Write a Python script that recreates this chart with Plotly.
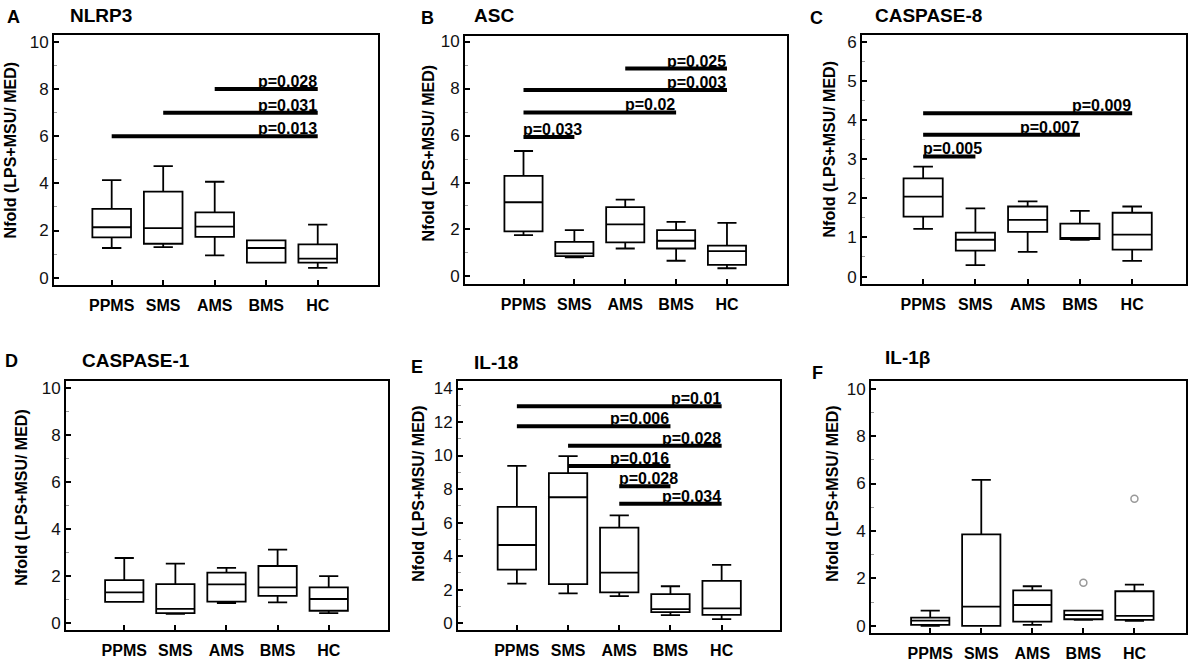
import plotly.graph_objects as go

W, H = 1198, 662
cats = ["PPMS", "SMS", "AMS", "BMS", "HC"]

# ---------------- data (box statistics) ----------------
nlrp3_low = [1.26, 1.30, 0.95, 0.64, 0.42]
nlrp3_q1 = [1.71, 1.44, 1.73, 0.64, 0.64]
nlrp3_med = [2.14, 2.10, 2.17, 1.26, 0.81]
nlrp3_q3 = [2.92, 3.65, 2.77, 1.58, 1.41]
nlrp3_high = [4.14, 4.73, 4.07, 1.58, 2.25]

asc_low = [1.76, 0.81, 1.19, 0.67, 0.35]
asc_q1 = [1.92, 0.87, 1.45, 1.19, 0.49]
asc_med = [3.16, 0.98, 2.22, 1.52, 1.08]
asc_q3 = [4.28, 1.47, 2.95, 1.97, 1.31]
asc_high = [5.34, 1.97, 3.27, 2.32, 2.28]

casp8_low = [1.22, 0.29, 0.63, 0.94, 0.40]
casp8_q1 = [1.53, 0.66, 1.14, 0.96, 0.69]
casp8_med = [2.04, 0.94, 1.45, 0.99, 1.07]
casp8_q3 = [2.51, 1.12, 1.79, 1.35, 1.63]
casp8_high = [2.81, 1.74, 1.92, 1.68, 1.79]

casp1_low = [0.90, 0.39, 0.84, 0.88, 0.42]
casp1_q1 = [0.90, 0.42, 0.91, 1.15, 0.52]
casp1_med = [1.30, 0.60, 1.64, 1.51, 1.02]
casp1_q3 = [1.82, 1.65, 2.14, 2.42, 1.51]
casp1_high = [2.76, 2.52, 2.34, 3.12, 1.99]

il18_low = [2.36, 1.77, 1.61, 0.47, 0.24]
il18_q1 = [3.19, 2.32, 1.83, 0.65, 0.49]
il18_med = [4.66, 7.51, 3.01, 0.83, 0.88]
il18_q3 = [6.94, 8.95, 5.70, 1.73, 2.52]
il18_high = [9.38, 9.97, 6.43, 2.20, 3.48]

il1b_low = [0.00, 0.00, 0.04, 0.25, 0.21]
il1b_q1 = [0.04, 0.00, 0.18, 0.28, 0.25]
il1b_med = [0.22, 0.81, 0.88, 0.46, 0.42]
il1b_q3 = [0.35, 3.86, 1.50, 0.64, 1.46]
il1b_high = [0.64, 6.15, 1.67, 0.64, 1.74]
il1b_out_x = ["BMS", "HC"]
il1b_out_y = [1.82, 5.36]

# ---------------- significance bars ----------------
nlrp3_sig_from = ["AMS", "SMS", "PPMS"]
nlrp3_sig_to = ["HC", "HC", "HC"]
nlrp3_sig_y = [8.0, 7.0, 6.0]
nlrp3_sig_p = ["p=0.028", "p=0.031", "p=0.013"]

asc_sig_from = ["AMS", "PPMS", "PPMS", "PPMS"]
asc_sig_to = ["HC", "HC", "BMS", "SMS"]
asc_sig_y = [8.85, 7.94, 6.98, 5.94]
asc_sig_p = ["p=0.025", "p=0.003", "p=0.02", "p=0.033"]

casp8_sig_from = ["PPMS", "PPMS", "PPMS"]
casp8_sig_to = ["HC", "BMS", "SMS"]
casp8_sig_y = [4.17, 3.62, 3.07]
casp8_sig_p = ["p=0.009", "p=0.007", "p=0.005"]

casp1_sig_from, casp1_sig_to, casp1_sig_y, casp1_sig_p = [], [], [], []

il18_sig_from = ["PPMS", "PPMS", "SMS", "SMS", "AMS", "AMS"]
il18_sig_to = ["HC", "BMS", "HC", "BMS", "BMS", "HC"]
il18_sig_y = [12.94, 11.74, 10.58, 9.38, 8.16, 7.12]
il18_sig_p = ["p=0.01", "p=0.006", "p=0.028", "p=0.016", "p=0.028", "p=0.034"]

il1b_sig_from, il1b_sig_to, il1b_sig_y, il1b_sig_p = [], [], [], []

# ---------------- panel layout ----------------
panels = [
    dict(letter="A", title="NLRP3", stats=(nlrp3_low, nlrp3_q1, nlrp3_med, nlrp3_q3, nlrp3_high),
         sig=(nlrp3_sig_from, nlrp3_sig_to, nlrp3_sig_y, nlrp3_sig_p),
         box=(54, 378, 32, 285), xr=[-1.12, 5.17], yr=[-0.31, 10.31], dtick=2, minor=1,
         letter_xy=(13, 14), title_xy=(68, 13), ytitle_xy=(10, 149)),
    dict(letter="B", title="ASC", stats=(asc_low, asc_q1, asc_med, asc_q3, asc_high),
         sig=(asc_sig_from, asc_sig_to, asc_sig_y, asc_sig_p),
         box=(465, 787, 33, 284), xr=[-1.15, 5.18], yr=[-0.32, 10.25], dtick=2, minor=1,
         letter_xy=(427, 15), title_xy=(472, 13), ytitle_xy=(428, 152)),
    dict(letter="C", title="CASPASE-8", stats=(casp8_low, casp8_q1, casp8_med, casp8_q3, casp8_high),
         sig=(casp8_sig_from, casp8_sig_to, casp8_sig_y, casp8_sig_p),
         box=(862, 1186, 32, 284), xr=[-1.17, 5.03], yr=[-0.19, 6.18], dtick=1, minor=0.5,
         letter_xy=(816, 15), title_xy=(873, 13), ytitle_xy=(829, 148)),
    dict(letter="D", title="CASPASE-1", stats=(casp1_low, casp1_q1, casp1_med, casp1_q3, casp1_high),
         sig=(casp1_sig_from, casp1_sig_to, casp1_sig_y, casp1_sig_p),
         box=(66, 388, 382, 634), xr=[-1.14, 5.16], yr=[-0.31, 10.28], dtick=2, minor=1,
         letter_xy=(11, 362), title_xy=(80, 361), ytitle_xy=(22, 500)),
    dict(letter="E", title="IL-18", stats=(il18_low, il18_q1, il18_med, il18_q3, il18_high),
         sig=(il18_sig_from, il18_sig_to, il18_sig_y, il18_sig_p),
         box=(458, 780, 382, 634), xr=[-1.15, 5.14], yr=[-0.43, 14.45], dtick=2, minor=1,
         letter_xy=(417, 368), title_xy=(472, 363), ytitle_xy=(419, 496)),
    dict(letter="F", title="IL-1β", stats=(il1b_low, il1b_q1, il1b_med, il1b_q3, il1b_high),
         sig=(il1b_sig_from, il1b_sig_to, il1b_sig_y, il1b_sig_p),
         box=(871, 1186, 382, 637), xr=[-1.16, 5.01], yr=[-0.31, 10.32], dtick=2, minor=1,
         letter_xy=(817, 374), title_xy=(883, 358), ytitle_xy=(833, 496)),
]

FONT = "Liberation Sans, Arial, sans-serif"


def px(x):
    return x / W


def py(y):
    return 1 - y / H


fig = go.Figure()
annotations = []
layout_axes = {}

for i, p in enumerate(panels):
    n = "" if i == 0 else str(i + 1)
    xa, ya = "x" + n, "y" + n
    low, q1, med, q3, high = p["stats"]
    fig.add_trace(go.Box(
        x=cats, lowerfence=low, q1=q1, median=med, q3=q3, upperfence=high,
        xaxis=xa, yaxis=ya, width=0.75, whiskerwidth=0.5, boxpoints=False,
        fillcolor="rgba(255,255,255,0)", line=dict(color="black", width=1.8),
        showlegend=False, hoverinfo="skip"))

    sf, st, sy, sp = p["sig"]
    for a, b, yv, lab in zip(sf, st, sy, sp):
        fig.add_trace(go.Scatter(
            x=[a, b], y=[yv, yv], mode="lines", xaxis=xa, yaxis=ya,
            line=dict(color="black", width=4), showlegend=False, hoverinfo="skip"))
        ia, ib = cats.index(a), cats.index(b)
        if ib - ia <= 1:
            ax, anchor = (ia + ib) / 2 + 0.05, "center"
        else:
            ax, anchor = ib, "right"
        annotations.append(dict(
            x=ax, y=yv, xref=xa, yref=ya, text="<b>%s</b>" % lab, showarrow=False,
            xanchor=anchor, yanchor="bottom", yshift=-3, xshift=1,
            font=dict(family=FONT, size=16, color="black")))

    x0, x1, y0, y1 = p["box"]
    layout_axes["xaxis" + n] = dict(
        domain=[px(x0), px(x1)], anchor=ya, range=p["xr"], type="category",
        categoryorder="array", categoryarray=cats,
        tickmode="array", tickvals=cats, ticktext=["<b>%s</b>" % c for c in cats],
        ticks="inside", ticklen=5, tickwidth=1.5, tickcolor="black",
        ticklabelstandoff=5,
        showline=True, mirror=True, linecolor="black", linewidth=2,
        showgrid=False, zeroline=False,
        tickfont=dict(family=FONT, size=16, color="black"))
    layout_axes["yaxis" + n] = dict(
        domain=[py(y1), py(y0)], anchor=xa, range=p["yr"],
        dtick=p["dtick"], tick0=0, ticks="inside", ticklen=5, tickwidth=1.5, tickcolor="black",
        minor=dict(dtick=p["minor"], tick0=0, ticks="inside", ticklen=3, tickcolor="#999", tickwidth=1),
        showline=True, mirror=True, linecolor="black", linewidth=2,
        showgrid=False, zeroline=False,
        tickfont=dict(family=FONT, size=17, color="#111"))

    lx, ly = p["letter_xy"]
    annotations.append(dict(x=px(lx), y=py(ly), xref="paper", yref="paper", text="<b>%s</b>" % p["letter"],
                            showarrow=False, xanchor="center", yanchor="middle",
                            font=dict(family=FONT, size=18, color="black")))
    tx, ty = p["title_xy"]
    annotations.append(dict(x=px(tx), y=py(ty), xref="paper", yref="paper", text="<b>%s</b>" % p["title"],
                            showarrow=False, xanchor="left", yanchor="middle",
                            font=dict(family=FONT, size=19, color="black")))
    yx, yy = p["ytitle_xy"]
    annotations.append(dict(x=px(yx), y=py(yy), xref="paper", yref="paper",
                            text="<b>Nfold (LPS+MSU/ MED)</b>", textangle=-90,
                            showarrow=False, xanchor="center", yanchor="middle",
                            font=dict(family=FONT, size=16, color="black")))

# outliers in IL-1β panel
fig.add_trace(go.Scatter(
    x=il1b_out_x, y=il1b_out_y, mode="markers", xaxis="x6", yaxis="y6",
    marker=dict(symbol="circle-open", size=7, color="#999", line=dict(width=1.5, color="#999")),
    showlegend=False, hoverinfo="skip"))

fig.update_layout(
    width=W, height=H, margin=dict(l=0, r=0, t=0, b=0),
    paper_bgcolor="white", plot_bgcolor="white",
    annotations=annotations, **layout_axes)

fig.write_html("out.html", config={"displayModeBar": False},
               post_script="document.body.style.margin='0';")
